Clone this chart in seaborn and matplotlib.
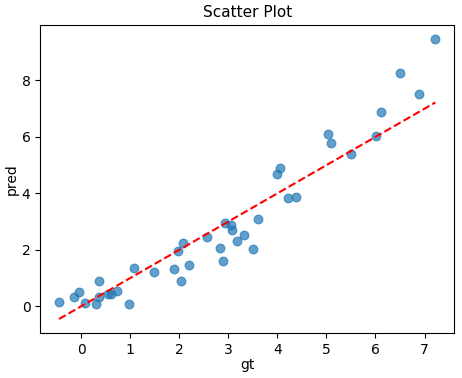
import numpy as np
import pandas as pd
import matplotlib
matplotlib.use("Agg")
import matplotlib.pyplot as plt
import seaborn as sns

gt = [-0.45, -0.14, -0.04, 0.07, 0.31, 0.37, 0.37, 0.55, 0.60, 0.73,
      0.98, 1.08, 1.49, 1.90, 2.04, 1.98, 2.08, 2.20, 2.57, 2.84,
      2.90, 2.94, 3.06, 3.08, 3.18, 3.33, 3.51, 3.61, 4.00, 4.06,
      4.22, 4.39, 5.04, 5.10, 5.51, 6.02, 6.12, 6.51, 6.88, 7.22]
pred = [0.15, 0.32, 0.52, 0.12, 0.08, 0.89, 0.32, 0.42, 0.42, 0.54,
        0.09, 1.35, 1.20, 1.32, 0.88, 1.95, 2.25, 1.45, 2.45, 2.05,
        1.60, 2.95, 2.88, 2.72, 2.33, 2.52, 2.02, 3.10, 4.68, 4.89,
        3.84, 3.87, 6.10, 5.78, 5.39, 6.03, 6.90, 8.26, 7.52, 9.47]

df = pd.DataFrame({"gt": gt, "pred": pred})

fig, ax = plt.subplots(figsize=(4.62, 3.78), dpi=100)
sns.scatterplot(data=df, x="gt", y="pred", ax=ax, s=40, alpha=0.7,
                color="C0", edgecolor="C0", linewidth=0.8)

lo, hi = min(gt), max(gt)
ax.plot([lo, hi], [lo, hi], "r--")

ax.set_title("Scatter Plot", fontsize=11)
ax.set_xlabel("gt", labelpad=1)
ax.set_ylabel("pred", labelpad=2)
fig.subplots_adjust(left=0.087, right=0.983, top=0.934, bottom=0.119)
fig.savefig("out.png", dpi=100)
